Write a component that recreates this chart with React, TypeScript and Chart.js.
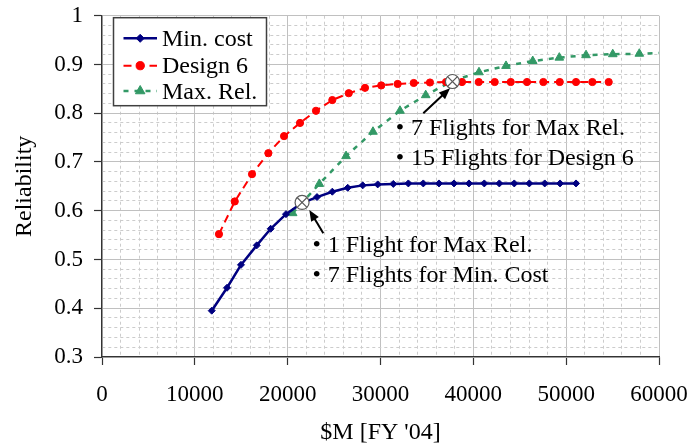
import React, { useEffect, useRef } from 'react';
import { Chart, registerables } from 'chart.js';

Chart.register(...registerables);

const FONT = "'Liberation Serif', 'Times New Roman', Times, serif";

// Axis ranges and grid spacing
const costMin = 0;
const costMax = 60000;
const costMajorStep = 10000;
const costMinorStep = 2000;
const relMin = 0.3;
const relMax = 1.0;
const relMinorStep = 0.02;

const seriesLabels = ['Min. cost', 'Design 6', 'Max. Rel.'];

// Min. cost series: cost [$M FY'04] vs reliability
const minCostCost = [11820, 13470, 14970, 16670, 18170, 19820, 21470, 23160, 24810, 26470, 28080, 29700, 31380, 33000, 34610, 36300, 37920, 39530, 41180, 42800, 44410, 46030, 47690, 49340, 51060];
const minCostRel = [0.395, 0.442, 0.489, 0.529, 0.563, 0.593, 0.615, 0.628, 0.639, 0.647, 0.652, 0.654, 0.655, 0.656, 0.656, 0.656, 0.656, 0.656, 0.656, 0.656, 0.656, 0.656, 0.656, 0.656, 0.656];

// Design 6 series
const design6Cost = [12600, 14300, 16160, 17920, 19610, 21330, 23050, 24810, 26580, 28330, 30080, 31850, 33580, 35330, 37060, 38780, 40580, 42300, 44030, 45780, 47540, 49310, 51060, 52820, 54580];
const design6Rel = [0.552, 0.619, 0.675, 0.718, 0.753, 0.780, 0.805, 0.827, 0.841, 0.852, 0.857, 0.860, 0.862, 0.863, 0.864, 0.864, 0.864, 0.864, 0.864, 0.864, 0.864, 0.864, 0.864, 0.864, 0.864];

// Max. Rel. series
const maxRelCost = [20540, 23410, 26290, 29190, 32100, 34870, 37740, 40610, 43520, 46400, 49260, 52140, 55020, 57880, 60750];
const maxRelRel = [0.595, 0.655, 0.712, 0.762, 0.805, 0.837, 0.866, 0.884, 0.897, 0.907, 0.914, 0.919, 0.921, 0.922, 0.924];

// Crossover markers
const crossCost = [21550, 37750];
const crossRel = [0.617, 0.865];

// Callout arrows (tail -> head)
const arrowTailCost = [23840, 34610];
const arrowTailRel = [0.554, 0.800];
const arrowHeadCost = [22330, 37490];
const arrowHeadRel = [0.6015, 0.851];

// Bulleted notes (bullet position, baseline)
const noteText = ['1 Flight for Max Rel.', '7 Flights for Min. Cost', '7 Flights for Max Rel.', '15 Flights for Design 6'];
const noteCost = [23130, 23130, 32100, 32100];
const noteRel = [0.516, 0.454, 0.755, 0.694];

const costTicks = Array.from({ length: (costMax - costMin) / costMinorStep + 1 }, (_, i) => costMin + i * costMinorStep);
const relTicks = Array.from({ length: Math.round((relMax - relMin) / relMinorStep) + 1 }, (_, i) => Math.round((relMin + i * relMinorStep) * 100) / 100);

const isMajorCost = (v: number) => Math.round(v) % costMajorStep === 0;
const isMajorRel = (v: number) => Math.round(v * 100) % 10 === 0;

const toPoints = (xs: number[], ys: number[]) => xs.map((x, i) => ({ x, y: ys[i] }));

function drawMarker(ctx: CanvasRenderingContext2D, style: string, x: number, y: number, r: number, color: string) {
  ctx.save();
  ctx.fillStyle = color;
  ctx.strokeStyle = color;
  ctx.lineWidth = 1;
  ctx.setLineDash([]);
  ctx.beginPath();
  if (style === 'rectRot') {
    ctx.moveTo(x, y - r);
    ctx.lineTo(x + r, y);
    ctx.lineTo(x, y + r);
    ctx.lineTo(x - r, y);
    ctx.closePath();
  } else if (style === 'triangle') {
    ctx.moveTo(x, y - r);
    ctx.lineTo(x + r * 0.866, y + r * 0.5);
    ctx.lineTo(x - r * 0.866, y + r * 0.5);
    ctx.closePath();
  } else {
    ctx.arc(x, y, r, 0, Math.PI * 2);
  }
  ctx.fill();
  ctx.stroke();
  ctx.restore();
}

function drawArrow(ctx: CanvasRenderingContext2D, x1: number, y1: number, x2: number, y2: number) {
  const ang = Math.atan2(y2 - y1, x2 - x1);
  const headLen = 11;
  const headHalf = 4.5;
  ctx.save();
  ctx.strokeStyle = '#000';
  ctx.fillStyle = '#000';
  ctx.lineWidth = 2;
  ctx.setLineDash([]);
  ctx.beginPath();
  ctx.moveTo(x1, y1);
  ctx.lineTo(x2 - Math.cos(ang) * headLen * 0.8, y2 - Math.sin(ang) * headLen * 0.8);
  ctx.stroke();
  const bx = x2 - Math.cos(ang) * headLen;
  const by = y2 - Math.sin(ang) * headLen;
  ctx.beginPath();
  ctx.moveTo(x2, y2);
  ctx.lineTo(bx + Math.sin(ang) * headHalf, by - Math.cos(ang) * headHalf);
  ctx.lineTo(bx - Math.sin(ang) * headHalf, by + Math.cos(ang) * headHalf);
  ctx.closePath();
  ctx.fill();
  ctx.restore();
}

const annotationPlugin = {
  id: 'reliabilityAnnotations',
  afterDatasetsDraw(chart: any) {
    const { ctx } = chart;
    const xs = chart.scales.x;
    const ys = chart.scales.y;
    for (let i = 0; i < arrowTailCost.length; i++) {
      drawArrow(
        ctx,
        xs.getPixelForValue(arrowTailCost[i]),
        ys.getPixelForValue(arrowTailRel[i]),
        xs.getPixelForValue(arrowHeadCost[i]),
        ys.getPixelForValue(arrowHeadRel[i])
      );
    }
    ctx.save();
    ctx.fillStyle = '#000';
    ctx.font = `24px ${FONT}`;
    ctx.textBaseline = 'alphabetic';
    for (let i = 0; i < noteText.length; i++) {
      const bx = xs.getPixelForValue(noteCost[i]);
      const by = ys.getPixelForValue(noteRel[i]);
      ctx.textAlign = 'center';
      ctx.fillText('\u2022', bx, by);
      ctx.textAlign = 'left';
      ctx.fillText(noteText[i], bx + 11, by);
    }
    ctx.restore();
  },
  afterDraw(chart: any) {
    const { ctx, chartArea } = chart;
    const left = chartArea.left + 11.5;
    const top = chartArea.top + 2;
    const w = 153;
    const h = 88;
    ctx.save();
    ctx.fillStyle = '#fff';
    ctx.fillRect(left, top, w, h);
    ctx.strokeStyle = '#404040';
    ctx.lineWidth = 1.5;
    ctx.strokeRect(left, top, w, h);
    const rows = [20.6, 48, 73.3];
    chart.data.datasets.slice(0, 3).forEach((ds: any, i: number) => {
      const cy = top + rows[i];
      ctx.save();
      ctx.strokeStyle = ds.borderColor;
      ctx.lineWidth = ds.borderWidth;
      ctx.setLineDash(ds.borderDash || []);
      ctx.beginPath();
      ctx.moveTo(left + 10, cy);
      ctx.lineTo(left + 43.5, cy);
      ctx.stroke();
      ctx.restore();
      drawMarker(ctx, ds.pointStyle, left + 26.7, cy, ds.pointRadius + 0.5, ds.borderColor);
      ctx.fillStyle = '#000';
      ctx.font = `24px ${FONT}`;
      ctx.textAlign = 'left';
      ctx.textBaseline = 'alphabetic';
      ctx.fillText(ds.label, left + 48.5, cy + 7.5);
    });
    ctx.restore();
  },
};

export default function App() {
  const canvasRef = useRef<HTMLCanvasElement | null>(null);

  useEffect(() => {
    document.body.style.margin = '0';
    const canvas = canvasRef.current;
    if (!canvas) return;

    const chart = new Chart(canvas, {
      type: 'scatter',
      data: {
        datasets: [
          {
            label: seriesLabels[0],
            data: toPoints(minCostCost, minCostRel),
            showLine: true,
            borderColor: '#000080',
            backgroundColor: '#000080',
            borderWidth: 2.5,
            pointStyle: 'rectRot',
            pointRadius: 3.5,
            pointBorderWidth: 1,
            order: 2,
          },
          {
            label: seriesLabels[1],
            data: toPoints(design6Cost, design6Rel),
            showLine: true,
            borderColor: '#ff0000',
            backgroundColor: '#ff0000',
            borderWidth: 2,
            borderDash: [8, 5],
            pointStyle: 'circle',
            pointRadius: 3.6,
            pointBorderWidth: 1,
            order: 3,
          },
          {
            label: seriesLabels[2],
            data: toPoints(maxRelCost, maxRelRel),
            showLine: true,
            borderColor: '#339966',
            backgroundColor: '#339966',
            borderWidth: 2.5,
            borderDash: [5, 6],
            pointStyle: 'triangle',
            pointRadius: 5,
            pointBorderWidth: 1,
            order: 4,
          },
          {
            label: 'crossover',
            data: toPoints(crossCost, crossRel),
            showLine: false,
            pointStyle: 'circle',
            pointRadius: 7,
            pointBorderWidth: 1.2,
            borderColor: '#5a5a5a',
            backgroundColor: '#ffffff',
            order: 1,
          },
          {
            label: 'crossover-x',
            data: toPoints(crossCost, crossRel),
            showLine: false,
            pointStyle: 'crossRot',
            pointRadius: 7,
            pointBorderWidth: 1.2,
            borderColor: '#5a5a5a',
            backgroundColor: '#5a5a5a',
            order: 0,
          },
        ],
      },
      options: {
        animation: false,
        responsive: false,
        maintainAspectRatio: false,
        devicePixelRatio: 1,
        layout: { padding: { left: 0, right: 31, top: 15.7, bottom: 0 } },
        plugins: {
          legend: { display: false },
          tooltip: { enabled: false },
        },
        scales: {
          x: {
            type: 'linear',
            min: costMin,
            max: costMax,
            afterBuildTicks: (s: any) => {
              s.ticks = costTicks.map((v) => ({ value: v }));
            },
            afterFit: (s: any) => {
              s.height = 90;
              s.paddingLeft = 0;
              s.paddingRight = 0;
            },
            ticks: {
              autoSkip: false,
              maxRotation: 0,
              minRotation: 0,
              padding: 16,
              color: '#000',
              font: { family: FONT, size: 23 },
              callback: (v: any) => (isMajorCost(Number(v)) ? String(v) : ''),
            },
            grid: {
              color: (c: any) => (c.tick && !isMajorCost(c.tick.value) ? '#cccccc' : '#c0c0c0'),
              lineWidth: 1,
              tickLength: 8,
              tickWidth: 1.2,
              tickColor: (c: any) => (c.tick && !isMajorCost(c.tick.value) ? 'rgba(0,0,0,0)' : '#333'),
            },
            border: {
              display: true,
              color: '#333',
              width: 1.3,
              dash: (c: any) => (c.tick && !isMajorCost(c.tick.value) ? [3, 3] : []),
            },
            title: {
              display: true,
              text: "$M [FY '04]",
              color: '#000',
              font: { family: FONT, size: 24 },
              padding: { top: 0, bottom: 0 },
            },
          },
          y: {
            type: 'linear',
            min: relMin,
            max: relMax,
            afterBuildTicks: (s: any) => {
              s.ticks = relTicks.map((v) => ({ value: v }));
            },
            afterFit: (s: any) => {
              s.width = 102;
              s.paddingTop = 0;
              s.paddingBottom = 0;
            },
            ticks: {
              autoSkip: false,
              padding: 11,
              color: '#000',
              font: { family: FONT, size: 23 },
              callback: (v: any) => (isMajorRel(Number(v)) ? String(Math.round(Number(v) * 10) / 10) : ''),
            },
            grid: {
              color: (c: any) => (c.tick && !isMajorRel(c.tick.value) ? '#cccccc' : '#c0c0c0'),
              lineWidth: 1,
              tickLength: 8,
              tickWidth: 1.2,
              tickColor: (c: any) => (c.tick && !isMajorRel(c.tick.value) ? 'rgba(0,0,0,0)' : '#333'),
            },
            border: {
              display: true,
              color: '#333',
              width: 1.3,
              dash: (c: any) => (c.tick && !isMajorRel(c.tick.value) ? [3, 3] : []),
            },
            title: {
              display: true,
              text: 'Reliability',
              color: '#000',
              font: { family: FONT, size: 24 },
              padding: { top: 10.6, bottom: 0 },
            },
          },
        },
      },
      plugins: [annotationPlugin],
    } as any);

    return () => chart.destroy();
  }, []);

  return (
    <div style={{ position: 'fixed', left: 0, top: 0, width: 690, height: 447, background: '#fff' }}>
      <canvas ref={canvasRef} width={690} height={447} style={{ display: 'block' }} />
    </div>
  );
}
